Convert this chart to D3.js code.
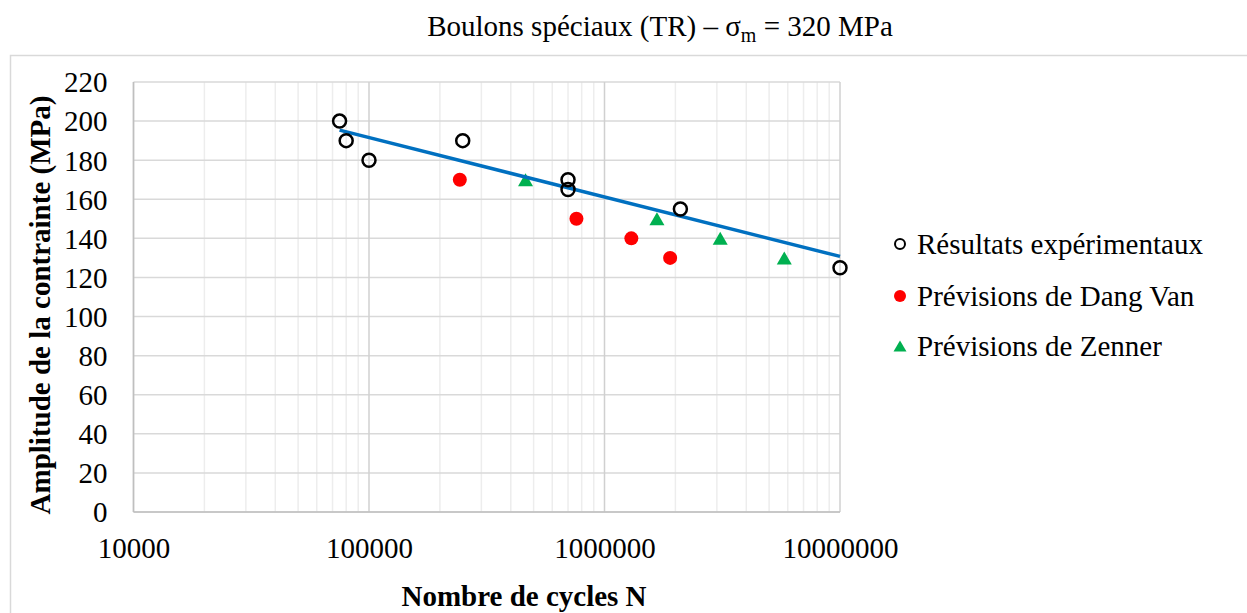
<!DOCTYPE html>
<html>
<head>
<meta charset="utf-8">
<script src="https://cdn.jsdelivr.net/npm/d3@7"></script>
<style>
  html, body { margin: 0; padding: 0; background: #fff; }
  #chart, #chart text { font-family: "Liberation Serif", "Times New Roman", "DejaVu Serif", serif !important; }
</style>
</head>
<body>
<svg id="chart" width="1247" height="613"></svg>
<script>
// Experimental fatigue results (cycles, stress amplitude in MPa)
const expCycles = [75000, 80000, 100000, 250000, 700000, 700000, 2100000, 10000000];
const expStress = [200, 190, 180, 190, 170, 165, 155, 125];

// Dang Van criterion predictions
const dangVanCycles = [243000, 760000, 1300000, 1900000];
const dangVanStress = [170, 150, 140, 130];

// Zenner criterion predictions
const zennerCycles = [462000, 1670000, 3100000, 5800000];
const zennerStress = [170, 150, 140, 130];

// Axis ticks
const xTickValues = [10000, 100000, 1000000, 10000000];
const yTickValues = [0, 20, 40, 60, 80, 100, 120, 140, 160, 180, 200, 220];

const legendLabels = ["Résultats expérimentaux", "Prévisions de Dang Van", "Prévisions de Zenner"];

const FONT = "'Liberation Serif', 'Times New Roman', 'DejaVu Serif', serif";
const FS = 29;

const svg = d3.select("#chart");

// Chart frame (continues past the right and bottom edges)
svg.append("rect")
  .attr("x", 10.5).attr("y", 55.5)
  .attr("width", 1400).attr("height", 700)
  .attr("fill", "none").attr("stroke", "#d9d9d9").attr("stroke-width", 1.5);

const plot = { left: 133.5, right: 840, top: 82, bottom: 512 };

const x = d3.scaleLog().domain([10000, 10000000]).range([plot.left, plot.right]);
const y = d3.scaleLinear().domain([0, 220]).range([plot.bottom, plot.top]);

const g = svg.append("g");

// Minor vertical gridlines (2..9 per decade)
const minor = [];
for (let k = 4; k < 7; k++) for (let m = 2; m <= 9; m++) minor.push(m * Math.pow(10, k));
g.selectAll("line.minor").data(minor).join("line")
  .attr("x1", d => x(d)).attr("x2", d => x(d))
  .attr("y1", plot.top).attr("y2", plot.bottom)
  .attr("stroke", "#ededed").attr("stroke-width", 1.5);

// Horizontal gridlines
g.selectAll("line.hgrid").data(yTickValues).join("line")
  .attr("x1", plot.left).attr("x2", plot.right)
  .attr("y1", d => y(d)).attr("y2", d => y(d))
  .attr("stroke", "#d9d9d9").attr("stroke-width", 1.5);

// Major vertical gridlines (decades)
g.selectAll("line.major").data(xTickValues).join("line")
  .attr("x1", d => x(d)).attr("x2", d => x(d))
  .attr("y1", plot.top).attr("y2", plot.bottom)
  .attr("stroke", "#d0d0d0").attr("stroke-width", 1.5);

// Axis lines
g.append("line").attr("x1", plot.left).attr("x2", plot.left)
  .attr("y1", plot.top).attr("y2", plot.bottom)
  .attr("stroke", "#bfbfbf").attr("stroke-width", 1.5);
g.append("line").attr("x1", plot.left).attr("x2", plot.right)
  .attr("y1", plot.bottom).attr("y2", plot.bottom)
  .attr("stroke", "#bfbfbf").attr("stroke-width", 1.5);

// Tick labels via d3 axes (lines hidden)
const yAxis = svg.append("g").attr("transform", `translate(${plot.left},0)`)
  .call(d3.axisLeft(y).tickValues(yTickValues).tickSize(0).tickPadding(26).tickFormat(d3.format("d")));
yAxis.attr("font-family", null).attr("font-size", null);
yAxis.select(".domain").remove();
yAxis.selectAll("text").attr("dy", "0.34em")
  .style("font-family", FONT).style("font-size", FS + "px");

const xAxis = svg.append("g").attr("transform", `translate(0,${plot.bottom})`)
  .call(d3.axisBottom(x).tickValues(xTickValues).tickSize(0).tickPadding(25).tickFormat(d3.format("d")));
xAxis.attr("font-family", null).attr("font-size", null);
xAxis.select(".domain").remove();
xAxis.selectAll("text").attr("dy", "0.71em")
  .style("font-family", FONT).style("font-size", FS + "px");

// Logarithmic trendline (stress = c·ln N + d) fitted to experimental results
const lx = expCycles.map(Math.log);
const mx = d3.mean(lx), my = d3.mean(expStress);
const c = d3.sum(lx, (v, i) => (v - mx) * (expStress[i] - my)) / d3.sum(lx, v => (v - mx) * (v - mx));
const d0 = my - c * mx;
const [nMin, nMax] = d3.extent(expCycles);
const trendPts = [nMin, nMax].map(n => [n, c * Math.log(n) + d0]);

// Triangle marker centred on its bounding box
const triPath = (w, h) => `M0,${-h / 2}L${w / 2},${h / 2}L${-w / 2},${h / 2}Z`;

svg.append("g").selectAll("circle").data(dangVanCycles).join("circle")
  .attr("cx", d => x(d)).attr("cy", (d, i) => y(dangVanStress[i]))
  .attr("r", 7).attr("fill", "#ff0000");

svg.append("g").selectAll("path").data(zennerCycles).join("path")
  .attr("d", triPath(15, 13))
  .attr("transform", (d, i) => `translate(${x(d)},${y(zennerStress[i])})`)
  .attr("fill", "#00b050");

svg.append("path")
  .datum(trendPts)
  .attr("d", d3.line().x(d => x(d[0])).y(d => y(d[1])))
  .attr("fill", "none").attr("stroke", "#0070c0").attr("stroke-width", 3.5);

svg.append("g").selectAll("circle").data(expCycles).join("circle")
  .attr("cx", d => x(d)).attr("cy", (d, i) => y(expStress[i]))
  .attr("r", 6.5).attr("fill", "none").attr("stroke", "#000").attr("stroke-width", 2.5);

// Title
const title = svg.append("text").attr("x", 660).attr("y", 36)
  .attr("text-anchor", "middle").style("font-family", FONT).style("font-size", FS + "px");
title.append("tspan").text("Boulons spéciaux (TR) – σ");
title.append("tspan").style("font-size", "20px").attr("dy", 6).text("m");
title.append("tspan").attr("dy", -6).text(" = 320 MPa");

// Axis titles
svg.append("text").attr("x", 524).attr("y", 606)
  .attr("text-anchor", "middle").attr("font-weight", "bold")
  .style("font-family", FONT).style("font-size", FS + "px")
  .text("Nombre de cycles N");

svg.append("text")
  .attr("transform", `translate(40,${(plot.top + plot.bottom) / 2 + 8}) rotate(-90)`)
  .attr("text-anchor", "middle").attr("dy", "0.35em").attr("font-weight", "bold")
  .style("font-family", FONT).style("font-size", FS + "px")
  .text("Amplitude de la contrainte (MPa)");

// Legend
const legend = svg.append("g").attr("transform", "translate(900,0)");
const rows = [244, 296, 346];
legend.append("circle").attr("cx", 0).attr("cy", rows[0]).attr("r", 5)
  .attr("fill", "none").attr("stroke", "#000").attr("stroke-width", 2);
legend.append("circle").attr("cx", 0).attr("cy", rows[1]).attr("r", 6).attr("fill", "#ff0000");
legend.append("path").attr("d", triPath(13, 11))
  .attr("transform", `translate(0,${rows[2]})`).attr("fill", "#00b050");
legend.selectAll("text").data(legendLabels).join("text")
  .attr("x", 17).attr("y", (d, i) => rows[i]).attr("dy", "0.35em")
  .style("font-family", FONT).style("font-size", FS + "px").text(d => d);
</script>
</body>
</html>
